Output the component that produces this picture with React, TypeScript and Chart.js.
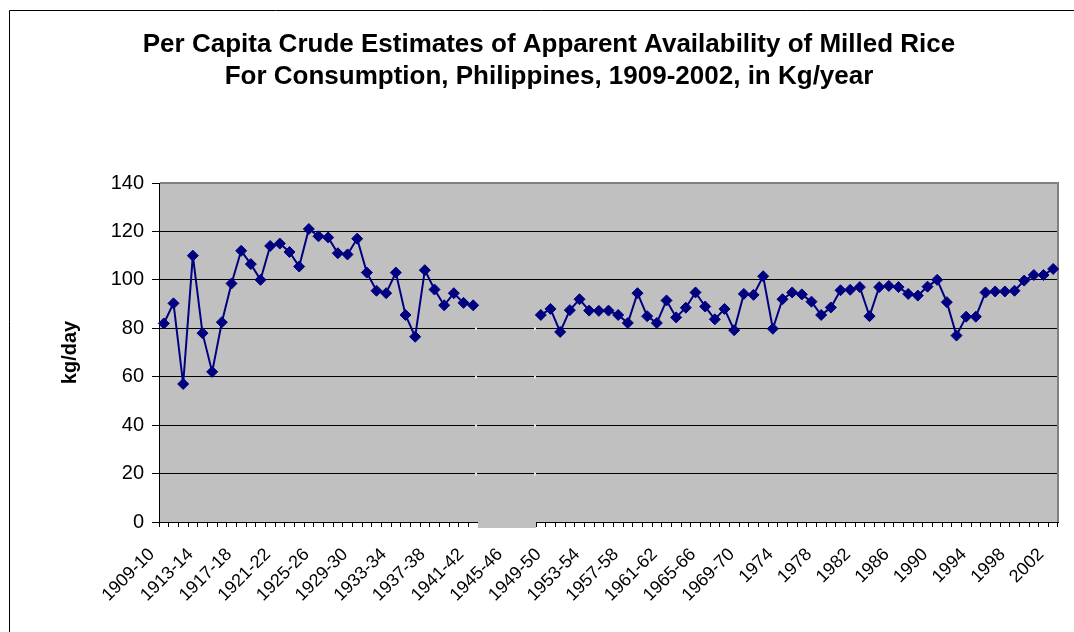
import React, { useEffect, useRef } from 'react';
import { Chart, registerables } from 'chart.js';

Chart.register(...registerables);

const TITLE_LINES = [
  'Per Capita Crude Estimates of Apparent Availability of Milled Rice',
  'For Consumption, Philippines, 1909-2002, in Kg/year',
];
const Y_TITLE = 'kg/day';

const PERIODS = [
  '1909-10', '1910-11', '1911-12', '1912-13', '1913-14', '1914-15', '1915-16', '1916-17',
  '1917-18', '1918-19', '1919-20', '1920-21', '1921-22', '1922-23', '1923-24', '1924-25',
  '1925-26', '1926-27', '1927-28', '1928-29', '1929-30', '1930-31', '1931-32', '1932-33',
  '1933-34', '1934-35', '1935-36', '1936-37', '1937-38', '1938-39', '1939-40', '1940-41',
  '1941-42', '1942-43', '1943-44', '1944-45', '1945-46', '1946-47', '1947-48', '1948-49',
  '1949-50', '1950-51', '1951-52', '1952-53', '1953-54', '1954-55', '1955-56', '1956-57',
  '1957-58', '1958-59', '1959-60', '1960-61', '1961-62', '1962-63', '1963-64', '1964-65',
  '1965-66', '1966-67', '1967-68', '1968-69', '1969-70', '1970-71', '1971-72', '1972-73',
  '1974', '1975', '1976', '1977', '1978', '1979', '1980', '1981',
  '1982', '1983', '1984', '1985', '1986', '1987', '1988', '1989',
  '1990', '1991', '1992', '1993', '1994', '1995', '1996', '1997',
  '1998', '1999', '2000', '2001', '2002',
];

const SHOWN_TICKS = [
  '1909-10', '1913-14', '1917-18', '1921-22', '1925-26', '1929-30', '1933-34', '1937-38',
  '1941-42', '1945-46', '1949-50', '1953-54', '1957-58', '1961-62', '1965-66', '1969-70',
  '1974', '1978', '1982', '1986', '1990', '1994', '1998', '2002',
];

const Y_TICKS = [0, 20, 40, 60, 80, 100, 120, 140];

const RICE_KG = [
  82, 90.3, 57, 110, 78, 62, 82.5, 98.5,
  112, 106.5, 100, 114, 115, 111.5, 105.5, 121,
  118, 117.5, 111, 110.5, 117, 103, 95.5, 94.5,
  103, 85.5, 76.5, 104, 96, 89.5, 94.5, 90.5,
  89.5, null, null, null, null, null, null, 85.5,
  88, 78.5, 87.5, 92, 87.3, 87.2, 87.3, 85.5,
  82.2, 94.5, 85, 82.2, 91.5, 84.5, 88.5, 94.8,
  89, 83.7, 88, 79.2, 94.2, 93.8, 101.5, 79.8,
  92, 94.8, 94, 91, 85.5, 88.6, 95.7, 95.9,
  97, 85, 97, 97.5, 97, 94.2, 93.5, 97.2,
  100, 90.8, 77, 84.8, 84.8, 94.8, 95.2, 95.2,
  95.5, 99.7, 102, 102, 104.5,
];

const FONT = 'Arial, "Liberation Sans", sans-serif';

export default function App() {
  const ref = useRef<HTMLCanvasElement>(null);

  useEffect(() => {
    const canvas = ref.current;
    if (!canvas) return;

    const framePlugin = {
      id: 'excelFrame',
      beforeDraw(chart: any) {
        const { ctx, chartArea: a } = chart;
        ctx.save();
        ctx.fillStyle = '#ffffff';
        ctx.fillRect(0, 0, chart.width, chart.height);
        ctx.fillStyle = '#C0C0C0';
        ctx.fillRect(a.left, a.top, a.right - a.left, a.bottom - a.top);
        ctx.strokeStyle = '#000000';
        ctx.lineWidth = 1;
        ctx.beginPath();
        ctx.moveTo(9.5, chart.height);
        ctx.lineTo(9.5, 10.5);
        ctx.lineTo(chart.width, 10.5);
        ctx.stroke();
        ctx.fillStyle = '#000000';
        ctx.font = 'bold 26px ' + FONT;
        ctx.textAlign = 'center';
        ctx.textBaseline = 'middle';
        TITLE_LINES.forEach((t, i) => ctx.fillText(t, 549, 45 + i * 32));
        ctx.restore();
      },
      beforeDatasetsDraw(chart: any) {
        const { ctx, chartArea: a } = chart;
        ctx.save();
        ctx.strokeStyle = '#808080';
        ctx.lineWidth = 2;
        ctx.beginPath();
        ctx.moveTo(a.left + 1, a.top);
        ctx.lineTo(a.right, a.top);
        ctx.lineTo(a.right, a.bottom);
        ctx.stroke();
        ctx.restore();
      },
      afterDraw(chart: any) {
        // erased stretch on the category axis where data is missing
        const { ctx, chartArea: a } = chart;
        const xs = chart.scales.x;
        const ys = chart.scales.y;
        const first = RICE_KG.indexOf(null);
        const last = RICE_KG.lastIndexOf(null);
        if (first < 0) return;
        const half = (xs.getPixelForValue(1) - xs.getPixelForValue(0)) / 2;
        const x0 = xs.getPixelForValue(first - 1) + half;
        const x1 = xs.getPixelForValue(last) + half;
        ctx.save();
        ctx.fillStyle = '#C0C0C0';
        ctx.fillRect(x0, a.bottom - 1, x1 - x0, 7);
        ctx.fillStyle = '#e4e4e4';
        [20, 40, 60, 80].forEach((v) => {
          const y = ys.getPixelForValue(v);
          ctx.fillRect(x0 - 3, y - 1, 2, 3);
          ctx.fillRect(x1 - 2, y - 1, 2, 3);
        });
        ctx.restore();
      },
    };

    const chart = new Chart(canvas, {
      type: 'line',
      data: {
        labels: PERIODS,
        datasets: [
          {
            label: 'kg',
            data: RICE_KG,
            borderColor: '#000080',
            backgroundColor: '#000080',
            borderWidth: 2,
            pointStyle: 'rectRot',
            pointRadius: 5.5,
            pointBorderWidth: 1,
            pointBackgroundColor: '#000080',
            pointBorderColor: '#000080',
            spanGaps: false,
            tension: 0,
          },
        ],
      },
      options: {
        responsive: false,
        animation: false,
        devicePixelRatio: 1,
        layout: { padding: { top: 183, right: 16, left: 0, bottom: 0 } },
        plugins: {
          legend: { display: false },
          title: { display: false },
          tooltip: { enabled: false },
        },
        scales: {
          x: {
            type: 'category',
            offset: true,
            grid: {
              offset: true,
              drawOnChartArea: false,
              drawTicks: true,
              tickLength: 5,
              tickColor: '#000000',
              color: '#000000',
            },
            border: { display: true, color: '#000000', width: 1 },
            ticks: {
              autoSkip: false,
              maxRotation: 45,
              minRotation: 45,
              padding: 17,
              labelOffset: -12,
              color: '#000000',
              font: { family: FONT, size: 18 },
              callback: function (this: any, value: any) {
                const lab = this.getLabelForValue(value);
                return SHOWN_TICKS.includes(lab) ? lab : '';
              },
            },
            afterFit(scale: any) {
              scale.height = 110;
              scale.paddingLeft = 0;
              scale.paddingRight = 0;
              scale.paddingTop = 0;
              scale.paddingBottom = 0;
            },
          },
          y: {
            min: Y_TICKS[0],
            max: Y_TICKS[Y_TICKS.length - 1],
            afterBuildTicks(scale: any) {
              scale.ticks = Y_TICKS.map((v) => ({ value: v }));
            },
            grid: {
              color: '#000000',
              lineWidth: 1,
              drawTicks: true,
              tickLength: 7,
              tickColor: '#000000',
            },
            border: { display: true, color: '#000000', width: 1 },
            ticks: {
              padding: 8,
              color: '#000000',
              font: { family: FONT, size: 20 },
            },
            title: {
              display: true,
              text: Y_TITLE,
              color: '#000000',
              font: { family: FONT, size: 20, weight: 'bold' },
              padding: { top: 58, bottom: 0 },
            },
            afterFit(scale: any) {
              scale.width = 159;
              scale.paddingTop = 0;
              scale.paddingBottom = 0;
            },
          },
        },
      },
      plugins: [framePlugin],
    } as any);

    return () => chart.destroy();
  }, []);

  return (
    <div style={{ position: 'fixed', left: 0, top: 0, width: 1074, height: 632, background: '#fff' }}>
      <canvas ref={ref} width={1074} height={632} style={{ display: 'block', width: 1074, height: 632 }} />
    </div>
  );
}
